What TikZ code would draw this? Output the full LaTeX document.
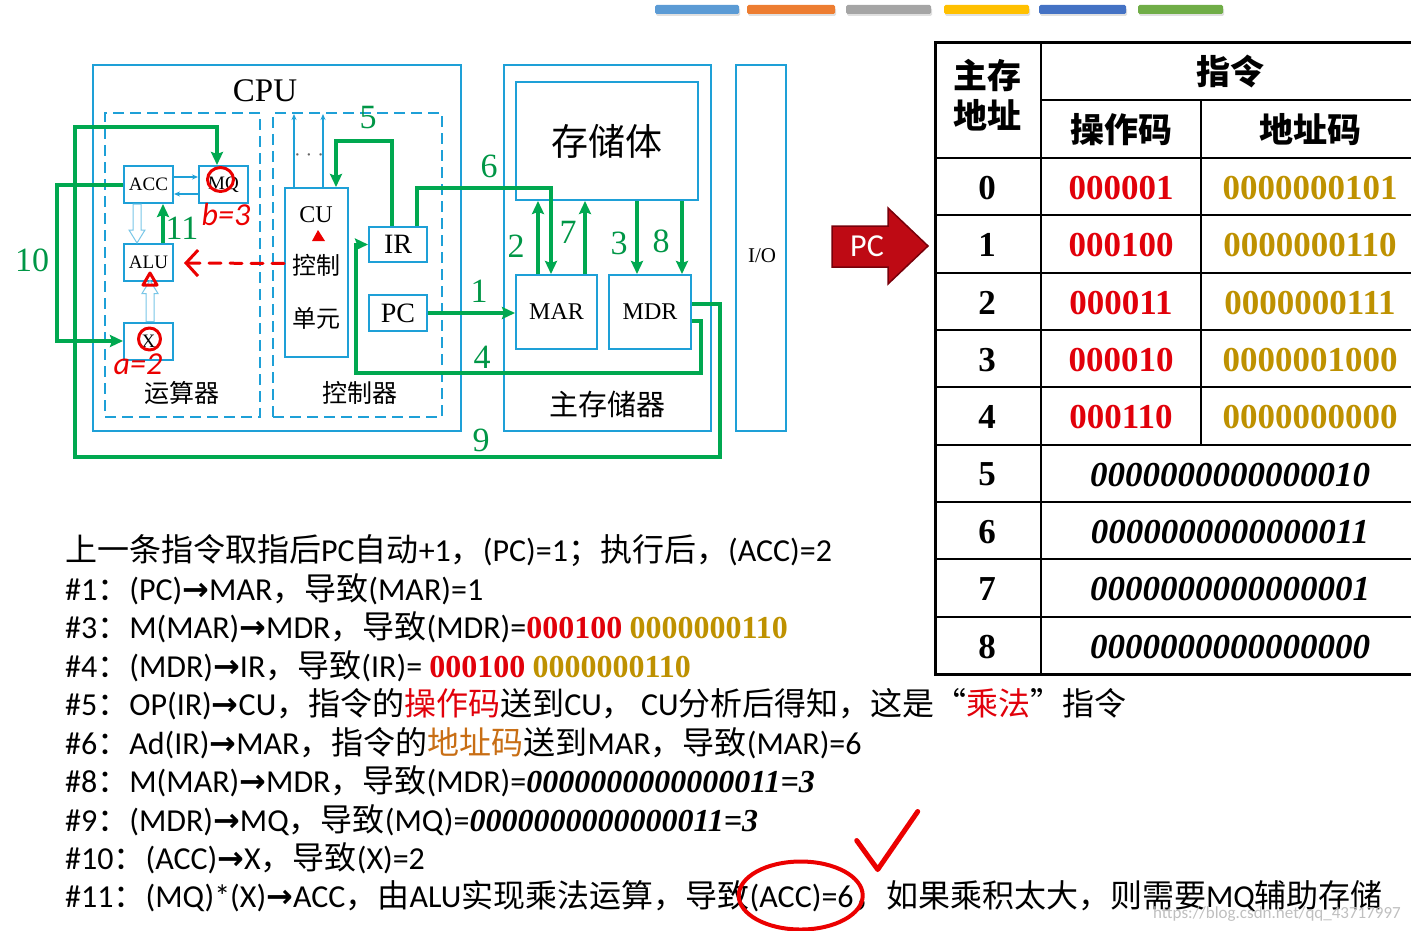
\documentclass[tikz,border=0pt]{standalone}
\usepackage{fontspec}
\setmainfont{Liberation Serif}
\newfontfamily\cjk{Noto Sans CJK SC}
\newfontfamily\calib{Carlito}
\newfontfamily\arrfont{DejaVu Sans}
\usetikzlibrary{arrows.meta,calc}

\definecolor{boxc}{RGB}{30,160,215}
\definecolor{flowc}{RGB}{0,168,80}
\definecolor{numc}{RGB}{0,150,70}
\definecolor{opred}{RGB}{225,0,10}
\definecolor{adgold}{RGB}{190,145,0}
\definecolor{adorange}{RGB}{200,110,20}
\definecolor{inkred}{RGB}{235,0,0}
\definecolor{pcred}{RGB}{190,10,20}
\definecolor{pcdark}{RGB}{120,0,10}
\definecolor{bar1}{RGB}{91,155,213}
\definecolor{bar2}{RGB}{237,125,49}
\definecolor{bar3}{RGB}{165,165,165}
\definecolor{bar4}{RGB}{255,192,0}
\definecolor{bar5}{RGB}{68,114,196}
\definecolor{bar6}{RGB}{112,173,71}

\newcommand\zh[1]{{\cjk #1}}
\newcommand\ra{{\arrfont\bfseries →}}
\newcommand\opbits[1]{{\rmfamily\bfseries\color{opred}#1}}
\newcommand\adbits[1]{{\rmfamily\bfseries\color{adgold}#1}}
\newcommand\wordbits[1]{{\rmfamily\bfseries\itshape #1}}

\tikzset{
  lbl/.style={inner sep=0pt},
  unit box/.style={draw=boxc, line width=2pt, inner sep=0pt},
  group box/.style={draw=boxc, line width=2pt, dash pattern=on 11pt off 6pt, inner sep=0pt},
  reg/.style={unit box, minimum width=49, minimum height=37, font=\fontsize{19}{19}\selectfont},
  flow/.style={draw=flowc, line width=4pt, -{Stealth[length=13pt,width=12pt,inset=2pt]}},
  link/.style={draw=boxc, line width=1.2pt, -{Stealth[length=6pt,width=5pt]}},
  hollow/.style={draw=boxc!60, line width=1pt, fill=white},
  flowno/.style={lbl, text=numc, font=\fontsize{34}{34}\selectfont},
  ink/.style={draw=inkred, line width=3pt, line cap=round, line join=round},
  inktext/.style={lbl, text=inkred, font=\calib\itshape\fontsize{32}{32}\selectfont},
  hdr/.style={lbl, align=center, font=\cjk\bfseries\fontsize{34}{40}\selectfont},
  cell/.style={lbl, font=\bfseries\fontsize{35}{35}\selectfont},
  wordcell/.style={lbl, font=\bfseries\itshape\fontsize{35}{35}\selectfont},
  noteline/.style={lbl, anchor=base west, font=\calib\fontsize{32}{38}\selectfont},
}

\begin{document}
\begin{tikzpicture}[x=1pt,y=-1pt]
\clip (0,0) rectangle (1411,931);
% colour bars on top
\foreach \xa/\xb/\cl in {655/739/bar1, 747/835/bar2, 846/931/bar3, 944/1029/bar4, 1039/1126/bar5, 1138/1223/bar6} {
  \fill[black!12, rounded corners=1.5pt] (\xa+1,8) rectangle (\xb+1,16);
  \fill[fill=\cl, rounded corners=1.5pt] (\xa,5) rectangle (\xb,14);
}

% CPU
\node[unit box, line width=2.5pt, minimum width=368, minimum height=366] (cpu) at (277,248) {};
\node[lbl, font=\fontsize{33}{33}\selectfont] (cputag) at (265,91) {CPU};
\node[group box, minimum width=155, minimum height=304] (arith) at (182.5,265) {};
\node[group box, minimum width=169, minimum height=304] (ctrl) at (357.5,265) {};
\node[reg] (acc) at (148.5,184.5) {ACC};
\node[reg] (mq) at (223.5,184.5) {MQ};
\node[reg] (alu) at (148.5,262) {ALU};
\node[reg] (xr) at (148.5,341) {X};
\node[unit box, minimum width=63, minimum height=169] (cu) at (316.5,272.5) {};
\node[lbl, font=\fontsize{24}{24}\selectfont] (cutag) at (316,215) {CU};
\node[lbl, font=\cjk\fontsize{24}{24}\selectfont] (cuzh1) at (316,265) {控制};
\node[lbl, font=\cjk\fontsize{24}{24}\selectfont] (cuzh2) at (316,318) {单元};
\node[lbl, text=black!60, font=\fontsize{20}{20}\selectfont] (cudots) at (309,158) {· · ·};
\node[unit box, minimum width=58, minimum height=35, font=\fontsize{28}{28}\selectfont] (ir) at (398,244.5) {IR};
\node[unit box, minimum width=58, minimum height=36, font=\fontsize{28}{28}\selectfont] (pc) at (398,313) {PC};
\node[lbl, font=\cjk\fontsize{25}{25}\selectfont] (arithtag) at (182,393) {运算器};
\node[lbl, font=\cjk\fontsize{25}{25}\selectfont] (ctrltag) at (360,393) {控制器};

% main memory and I/O
\node[unit box, line width=2.5pt, minimum width=207, minimum height=366] (mem) at (607.5,248) {};
\node[unit box, minimum width=182, minimum height=118, font=\cjk\fontsize{37}{37}\selectfont] (bank) at (607,141) {存储体};
\node[unit box, minimum width=81, minimum height=74, font=\fontsize{24}{24}\selectfont] (mar) at (556.5,312) {MAR};
\node[unit box, minimum width=82, minimum height=74, font=\fontsize{24}{24}\selectfont] (mdr) at (650,312) {MDR};
\node[lbl, font=\cjk\fontsize{29}{29}\selectfont] (memtag) at (607,404) {主存储器};
\node[unit box, line width=2.5pt, minimum width=50, minimum height=366] (io) at (761,248) {};
\node[lbl, font=\fontsize{21}{21}\selectfont] (iotag) at (762,256) {I/O};

% internal links
\draw[link] ([yshift=7.5]acc.east) -- ([yshift=7.5]mq.west);
\draw[link] ([yshift=-9.5]mq.west) -- ([yshift=-9.5]acc.east);
\draw[link] ([xshift=-22.5]cu.north) -- ++(0,-73);
\draw[link] ([xshift=6.5]cu.north) -- ++(0,-73);
\draw[hollow] ([xshift=-11.5]acc.south) ++(-4,0) -- ++(0,26) -- ++(-4,0) -- ++(8,13) -- ++(8,-13) -- ++(-4,0) -- ++(0,-26) -- cycle;
\draw[hollow] ([xshift=1.5]xr.north) ++(-4,0) -- ++(0,-28) -- ++(-4,0) -- ++(8,-13) -- ++(8,13) -- ++(-4,0) -- ++(0,28) -- cycle;

% numbered data paths
\draw[flow] (pc.east) -- (pc.east -| mar.west);
\draw[flow] ([xshift=-18.5]mar.north) -- ([xshift=-18.5]mar.north |- bank.south);
\draw[flow] ([xshift=-13]mdr.north |- bank.south) -- ([xshift=-13]mdr.north);
\draw[flow] ([yshift=-9]mdr.east) -- ++(9,0) -- ++(0,52) -- ++(-345,0) |- (ir.west);
\draw[flow] ([xshift=-6]ir.north) -- ++(0,-85) -| ([xshift=19.5]cu.north);
\draw[flow] ([xshift=19]ir.north) -- ++(0,-38) -| ([xshift=-5.5]mar.north);
\draw[flow] ([xshift=28.5]mar.north) -- ([xshift=28.5]mar.north |- bank.south);
\draw[flow] ([xshift=32]mdr.north |- bank.south) -- ([xshift=32]mdr.north);
\draw[flow] ([yshift=8]mdr.east) -- ++(28,0) -- ++(0,153) -| (75,127) -| ([xshift=-6.5]mq.north);
\draw[flow] (acc.west) -- ++(-66,0) |- (xr.west);
\draw[flow] ([xshift=14.5]alu.north) -- ([xshift=14.5]acc.south);
\foreach \t/\x/\y in {1/479/291, 2/516/246, 3/619/243, 4/482/357, 5/368/118, 6/489/166, 7/568/232, 8/661/241, 9/481/440, 10/32/260, 11/182/228}
  \node[flowno] (n\t) at (\x,\y) {\t};

% red handwriting
\draw[ink] (mq.center) ++(-3,-5) ellipse [x radius=13, y radius=12];
\node[inktext] (mqval) at (226,214) {b=3};
\draw[ink] (xr.center) ++(1,-2) circle [radius=11];
\node[inktext] (xval) at (138,364) {a=2};
\draw[ink] (143,285) -- (150,273) -- (157,285) -- cycle;
\fill[inkred] (312,241) -- (318,230) -- (325,241) -- cycle;
\draw[ink, dash pattern=on 12pt off 9pt, -{Straight Barb[length=12pt,width=26pt]}] ([yshift=9]cu.west) -- ([xshift=10,yshift=-1]alu.east);

% PC pointer
\fill[pcred, draw=pcdark, line width=1.5pt] (832,226) -- (888,226) -- (888,208) -- (928,246) -- (888,284) -- (888,267) -- (832,267) -- cycle;
\node[lbl, text=white, font=\calib\fontsize{32}{32}\selectfont] (pctag) at (867,246) {PC};

% memory table
\draw[line width=3pt] (935,43) -- (1420,43);
\draw[line width=3pt] (935,41.5) -- (935,675.5);
\draw[line width=3pt] (935,674) -- (1420,674);
\draw[line width=2pt] (1041,43) -- (1041,674);
\draw[line width=2pt] (1041,100) -- (1420,100);
\draw[line width=2pt] (1201,100) -- (1201,444.7);
\foreach \k in {0,...,8}
  \draw[line width=2pt] (935,{158+57.33*\k}) -- (1420,{158+57.33*\k});
\node[hdr] (hdaddr) at (987,95) {主存\\地址};
\node[hdr] (hdins) at (1230,72) {指令};
\node[hdr] (hdop) at (1121,130) {操作码};
\node[hdr] (hdad) at (1310,130) {地址码};
\foreach \a/\op/\ad in {0/000001/0000000101, 1/000100/0000000110, 2/000011/0000000111, 3/000010/0000001000, 4/000110/0000000000} {
  \node[cell] (addr\a) at (987,{188+57.33*\a}) {\a};
  \node[cell, text=opred] (op\a) at (1121,{188+57.33*\a}) {\op};
  \node[cell, text=adgold] (ad\a) at (1310,{188+57.33*\a}) {\ad};
}
\foreach \a/\w in {5/0000000000000010, 6/0000000000000011, 7/0000000000000001, 8/0000000000000000} {
  \node[cell] (addr\a) at (987,{188+57.33*\a}) {\a};
  \node[wordcell] (word\a) at (1230,{188+57.33*\a}) {\w};
}

% notes
\node[noteline] (note0) at (65,561) {\zh{上一条指令取指后}PC\zh{自动}+1\zh{，}(PC)=1\zh{；执行后，}(ACC)=2};
\node[noteline] (note1) at (65,600) {\#1\zh{：}(PC)\ra MAR\zh{，导致}(MAR)=1};
\node[noteline] (note3) at (65,638) {\#3\zh{：}M(MAR)\ra MDR\zh{，导致}(MDR)=\opbits{000100} \adbits{0000000110}};
\node[noteline] (note4) at (65,677) {\#4\zh{：}(MDR)\ra IR\zh{，导致}(IR)= \opbits{000100} \adbits{0000000110}};
\node[noteline] (note5) at (65,715) {\#5\zh{：}OP(IR)\ra CU\zh{，指令的}{\color{opred}\zh{操作码}}\zh{送到}CU\zh{，} CU\zh{分析后得知，这是“}{\color{opred}\zh{乘法}}\zh{”指令}};
\node[noteline] (note6) at (65,754) {\#6\zh{：}Ad(IR)\ra MAR\zh{，指令的}{\color{adorange}\zh{地址码}}\zh{送到}MAR\zh{，导致}(MAR)=6};
\node[noteline] (note8) at (65,792) {\#8\zh{：}M(MAR)\ra MDR\zh{，导致}(MDR)=\wordbits{0000000000000011=3}};
\node[noteline] (note9) at (65,831) {\#9\zh{：}(MDR)\ra MQ\zh{，导致}(MQ)=\wordbits{0000000000000011=3}};
\node[noteline] (note10) at (65,869) {\#10\zh{：}(ACC)\ra X\zh{，导致}(X)=2};
\node[noteline] (note11) at (65,907) {\#11\zh{：}(MQ)*(X)\ra ACC\zh{，由}ALU\zh{实现乘法运算，导致}};
\node[noteline] (acc6) at (note11.base east) {(ACC)=6};
\node[noteline] (note11b) at (acc6.base east) {\zh{，如果乘积太大，则需要}MQ\zh{辅助存储}};
\node[lbl, text=black!25, font=\calib\fontsize{17}{17}\selectfont] (wm) at (1277,914) {https://blog.csdn.net/qq\_43717997};
\draw[ink, line width=4pt] (acc6.center) ++(-1,-2) ellipse [x radius=62, y radius=34];
\draw[ink, line width=5pt] ([shift={(55,-57)}]acc6.center) -- ([shift={(76,-28)}]acc6.center) -- ([shift={(116,-86)}]acc6.center);
\end{tikzpicture}
\end{document}
